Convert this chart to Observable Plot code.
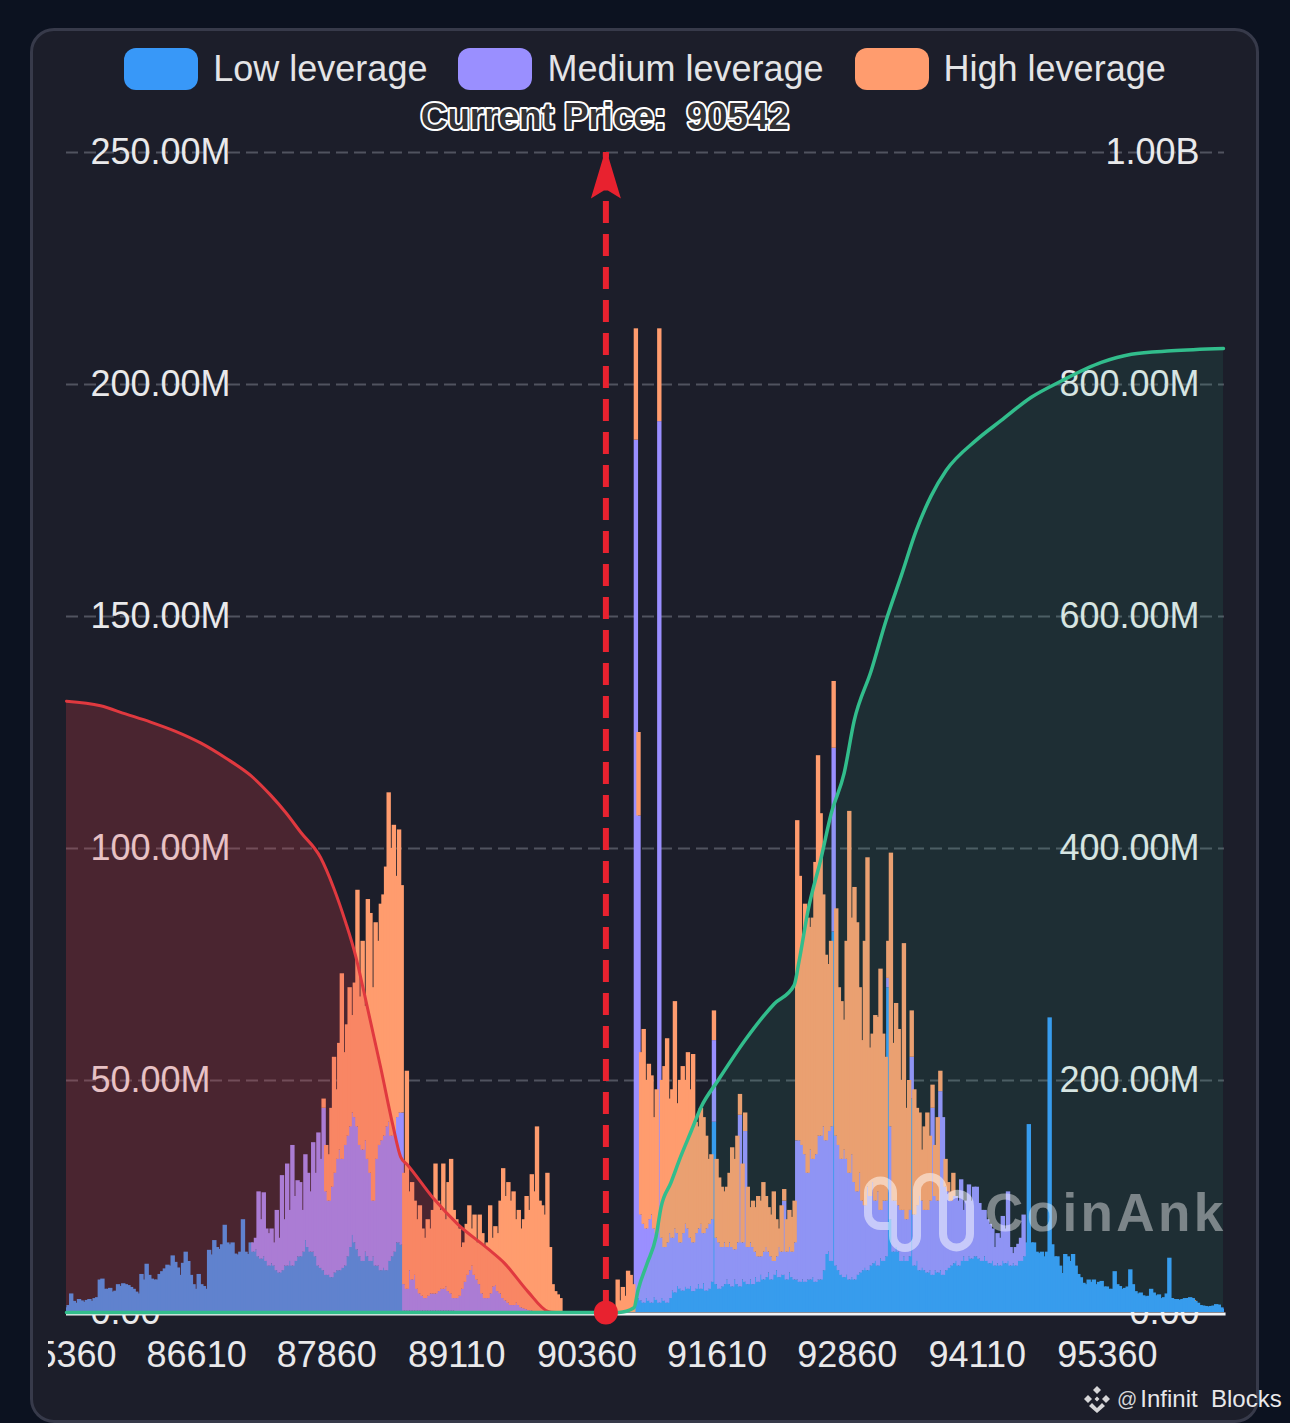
<!DOCTYPE html>
<html>
<head>
<meta charset="utf-8">
<script src="https://cdn.jsdelivr.net/npm/d3@7"></script>
<script src="https://cdn.jsdelivr.net/npm/@observablehq/plot@0.6"></script>
<style>
html,body{margin:0;padding:0;background:#0c1220;}
#root{position:relative;width:1290px;height:1423px;overflow:hidden;font-family:"Liberation Sans",Arial,sans-serif;}
#card{position:absolute;left:30px;top:28px;width:1223px;height:1389px;background:#1c1e2a;border:3px solid #373a4a;border-radius:24px;}
#legend{position:relative;height:96px;display:flex;justify-content:center;align-items:flex-start;gap:31px;padding-top:0;box-sizing:border-box;font-size:36px;color:#e4e4e6;}
.item{display:flex;align-items:center;gap:15px;margin-top:48px;height:42px;}
.swatch{display:inline-block;width:74px;height:42px;border-radius:12px;}
#chart{position:relative;height:1327px;}
#chart svg{display:block;}
.mark{position:absolute;pointer-events:none;}
#coinank{left:985px;top:1180px;font-weight:700;font-size:53px;letter-spacing:3.4px;line-height:66px;color:rgba(255,255,255,.42);white-space:nowrap;}
#credit{left:1083px;top:1382px;height:34px;display:flex;align-items:center;color:#e8e8ea;font-size:24px;white-space:pre;}
</style>
</head>
<body>
<div id="root">
  <div id="card"></div>
  <div id="legend"></div>
  <div id="chart"></div>
  <svg class="mark" style="left:0;top:0" width="1290" height="1423" fill="none">
    <path d="M893 1222V1193a12.5 12.5 0 0 0-25 0v20a12.5 12.5 0 0 0 12.5 13H890M893 1193v43a12 12 0 0 0 24 0v-46a13 13 0 0 1 26 0v44a13.5 13.5 0 0 0 27 0v-28a12 12 0 0 0-20-9" stroke="rgba(255,255,255,.5)" stroke-width="8" stroke-linecap="round"/>
  </svg>
  <div id="coinank" class="mark">CoinAnk</div>
  <div id="credit" class="mark"><svg width="28" height="28" viewBox="-14 -14 28 28" fill="#d6d6d8" style="margin-right:6px"><path d="M0-13l4 4-4 4-4-4zM-9-4l4 4-4 4-4-4zM9-4l4 4-4 4-4-4zM0-2.5l2.5 2.5-2.5 2.5-2.5-2.5zM-5 4l5 5 5-5 3 3-8 7-8-7z"/></svg><span style="color:#d6d6d8;font-size:20px;margin-right:3px">@</span>Infinit  Blocks</div>
</div>
<script>
const zeros = n => new Array(n).fill(0);

// Bars are one price step wide; tops of each leverage layer, in millions.
const firstPrice = 85360;
const priceStep = 25;
const currentPrice = 90542;
const xTicks = [85360, 86610, 87860, 89110, 90360, 91610, 92860, 94110, 95360];
const yTicks = [0, 50, 100, 150, 200, 250];
const seriesNames = ["Low leverage", "Medium leverage", "High leverage"];
const seriesColors = ["#3898f8", "#9a8fff", "#ff9c6e"];

const lowTop = [
  1,1.5,4,2.4,2,2.8,2.5,2.2,2.6,2.8,2.4,3,3.2,7,7.2,5,5,5.2,4.4,4.6,6,5.6,6.2,6,5.8,5.4,5,4.4,4,8.2,7,10.4,8,7.2,7,7,8.2,8.8,9.4,10.2,10,12.2,10.8,9.6,8,10.6,13,11,8,6,
  5,8.2,6,5.6,5,13.4,12.4,15.5,14,13.6,14.6,18.8,15,14.6,15,12.6,12.4,13,20,13,12.5,15,13,13.5,12,11.5,12,11,10,10.5,10,9,8.5,9,10,10,11,10,11,12,12,13,15.5,14,13,13,12,10,9.5,9,
  8,8,7.5,8.5,9,9,9.5,10,12,14,16.6,15,13.5,12,11,13,12,11,12,10,10,9,9.5,9,11,12,13,15,15,14.5,.3,.3,.3,.3,.3,.3,.3,.3,.3,.3,.3,.3,.3,.3,.3,.3,.3,.3,.3,.3,
  ...zeros(50),
  ...zeros(19),3,3,2.5,2,3,2.4,2,3.2,2.6,2,3,2.4,2,3,4.6,4.2,5.6,5,4.6,5.4,5,5.6,4.5,5,6,5,6.2,4.6,5,6.5,41,
  6,5,5.5,6,7,6,5.5,7,6,5.5,7,6.5,6,7,6,7.5,6.5,8,7,7.5,8.5,7,8,9,7.5,8,8,7,8.5,7.5,7,7,6.5,7,6.5,7,7,7.5,6.5,7,7,9,12.5,13,11,82,10,9,8,7.5,
  8,7,7.5,7,8,8.5,9,9.5,9,10,10.5,11,10,11.5,11,12,70,20,13,14,13,11,12,11,12,46,10,11,9,9.5,9,8.5,9,8,9,8.5,9,8,9,9.5,10,10.5,11,10,11,12,11,12,11.5,12,
  12,11.5,11,12,11,10.5,11,10,10.5,10,11,10.5,11,10,10.5,10,11,11,12,15,40.5,15,15,13,12.7,13,12,13,63.5,14.6,12,12,10,8.4,12.5,12,11,12.5,10,8.2,7.5,6.3,6,7,6.5,7,6,6.5,6.7,5.5,
  5.5,5,5,8.8,6,5.6,5,5.2,5.5,9.2,6,4.5,4,4.2,3.6,3.4,3.5,5,4.2,3.6,3.8,3,3.2,4,11.7,3,2.8,2.8,2.6,2.8,3,3,3.2,3,2.4,2,1.5,1.4,1.3,1.2,1.3,1.4,1.7,1.6,1,.7
];

const mediumTop = [
  ...zeros(50),
  ...zeros(22),15,16,26,20,25.8,18,17,18,15,22,16,29.5,20,32,22,36,25,28.4,28,22,34,30,26,36.6,30,38.7,33,44,
  26,24,27,30,33,35,33,36,38,40,43,42,40,36,35,37,33,30,24,33,36,37,38,40,41,38,39,42,43,43,6,5,9,7,8,5,4,3.5,3,3.5,4,4,4,4.5,5,5,5.5,4.5,4,3,
  3,3.5,5,6.5,8,9,10,8,7,6,4,3,3,4,5.5,5.8,4.5,4,3,2.5,2,1.5,1.5,2,1.5,1,.8,.6,.4,.3,...zeros(20),
  ...zeros(19),188,107,21,19,18,20,21,18,17,192,16,14,15,17,16,18,17,15,17,19,18,16,15,17,18,19,17,18,19,20,58.6,
  16,15,14,15,14,15,14,13.5,15,42.5,15,39,14,15,14,13,12,12,13,14,13,12,11,12,14,13,24,13,14,13,15,37,37,36,34,30,35,33,34,38,38,40,37,39,40,121.6,38,36,33,35,
  33,30,34,28,26,30,24,23,27,25,28,24,26,22,24,24,72,40,24,24,23,22,22,20,22,55,21,23,25,24,22,22,24,44,25,24,47.6,42,27,26,24,25,25,24,28.6,22,24,27.5,24,27,
  27,23.5,22,22,20,19,18,14,17,16,20.7,18,26,14,12.7,14,14.7,16,21,...zeros(31),
  ...zeros(46)
];

const highTop = [
  ...zeros(50),
  ...zeros(49),46,
  36,34,44,55,48,58,73,56,62,70,64,71,91,68,80,66,89,86,70,84,80,88,90,96,112,100,105,94,104,92,30,52,26,28,24,20,23,18,16,20,18,22,32,24,22,32,20,28,33,22,
  20,18,14,15,19,23,18,21,15,21,17,14,15,23,16,18.5,17,24,31,25,28,24,26,20,22,18,20,25,22,29.7,26,40,24,23,21,30,14,6,4.5,3.8,3,...zeros(9),
  ...zeros(12),7,2.5,5.4,3.5,8.9,8,6,212,125,56,61,50,53.5,51,42,48,212,50,53,59,46,48,67,45,50,53,50,56,48,55.6,41,40,44,42,38,33,34,65,
  33,29,27,26,27,30,35.5,33,38,47,32,43,27,22.6,24,22.6,25,24,28,25,22.6,21,26,20,18,23,26.5,20,22,20.5,24,106,94,80,88,85,83,85,97,120,107.5,90,77,75,80,136,87,70,67,63,
  80,108,85,91.6,84,70,58.6,80,98,57,60,64,63.6,74,60,55,80,99,58,66.6,61,50,79.5,44,50,65,48,44,43,35,40,43,38,49,36,42,52,42,33,28,26,30,25,24,0,0,0,0,0,0,
  ...zeros(50),
  ...zeros(46)
];

// Cumulative liquidation, read against the right-hand axis, in millions.
const shortPrices = [85360,85687,85927,86168,86408,86648,86889,87129,87321,87466,87610,87802,87927,88043,88139,88216,88379,88494,88571,88639,88889,89120,89408,89562,89793,89985,90062];
const shortCum =    [527,523,516,509,501,491,478,463,446,431,414,392,366,336,307,277,211,162,134,127,98,76,55,43,18,1,0];
const longPrices = [85360,90667,90812,90850,90937,91023,91071,91167,91263,91360,91456,91619,91889,92158,92350,92398,92485,92610,92706,92831,92927,93090,93235,93379,93523,93667,93812,94100,94340,94629,94917,95302,95590,95975,96475];
const longCum =    [0,0,4,19,42,65,90.5,112,135,156,177,200,236,266,282,303,347,392,430,465,510,553,597,635,674,704,726,752,769,789,803,819,826,829,831];

if (lowTop.length !== 446 || mediumTop.length !== 446 || highTop.length !== 446)
  throw new Error("lengths " + lowTop.length + " " + mediumTop.length + " " + highTop.length);

// Table drawn series by series, so later layers sit over earlier ones as in the source.
const rows = [];
lowTop.forEach((v, i) => rows.push({price: firstPrice + i * priceStep, series: seriesNames[0], from: 0, to: v}));
mediumTop.forEach((v, i) => { if (v > lowTop[i]) rows.push({price: firstPrice + i * priceStep, series: seriesNames[1], from: lowTop[i], to: v}); });
highTop.forEach((v, i) => { const b = Math.max(lowTop[i], mediumTop[i]); if (v > b) rows.push({price: firstPrice + i * priceStep, series: seriesNames[2], from: b, to: v}); });

const short = shortPrices.map((p, i) => ({price: p, cum: shortCum[i]}));
const long = longPrices.map((p, i) => ({price: p, cum: longCum[i]}));
const rightAxis = d => d.cum / 4;

// Legend
const legend = document.getElementById("legend");
seriesNames.forEach((n, i) => {
  const it = document.createElement("div"); it.className = "item";
  const s = document.createElement("span"); s.className = "swatch"; s.style.background = seriesColors[i];
  const t = document.createElement("span"); t.textContent = n;
  it.append(s, t); legend.append(it);
});

const RED = "#e8222f";
const arrowHead = {draw(c) {
  c.moveTo(-3, 0); c.lineTo(3, 0); c.lineTo(3, 6); c.lineTo(15, 46); c.lineTo(2, 38); c.lineTo(-2, 38); c.lineTo(-15, 46); c.lineTo(-3, 6); c.closePath();
}};

const chart = Plot.plot({
  width: 1290,
  height: 1327,
  marginLeft: 66,
  marginRight: 66,
  marginTop: 56,
  marginBottom: 111,
  style: {background: "transparent", color: "#e9e9eb", fontFamily: '"Liberation Sans", Arial, sans-serif', overflow: "visible"},
  x: {type: "linear", domain: [85360, 96485]},
  y: {domain: [0, 250]},
  color: {domain: seriesNames, range: seriesColors},
  marks: [
    Plot.ruleY([50, 100, 150, 200, 250], {stroke: "#50535f", strokeWidth: 2, strokeDasharray: "12 6"}),
    Plot.axisY({anchor: "left", ticks: yTicks, tickSize: 0, tickPadding: -24, textAnchor: "start", fontSize: 36, label: null, tickFormat: d => d === 0 ? "0.00" : d.toFixed(2) + "M"}),
    Plot.axisY({anchor: "right", ticks: yTicks, tickSize: 0, tickPadding: -25, textAnchor: "end", fontSize: 36, label: null, tickFormat: d => d === 0 ? "0.00" : d * 4 >= 1000 ? (d * 4 / 1000).toFixed(2) + "B" : (d * 4).toFixed(2) + "M"}),
    Plot.axisX({ticks: xTicks, tickSize: 0, tickPadding: 29, fontSize: 36, label: null, tickFormat: d => String(d)}),
    Plot.rect(rows, {x1: d => d.price - 21, x2: d => d.price + 21, y1: "from", y2: "to", fill: "series", clip: true}),
    Plot.areaY(short, {x: "price", y1: 0, y2: rightAxis, fill: "#e33b44", fillOpacity: 0.23, curve: "monotone-x"}),
    Plot.areaY(long, {x: "price", y1: 0, y2: rightAxis, fill: "#2fc192", fillOpacity: 0.1, curve: "monotone-x"}),
    Plot.ruleY([0], {x1: 85360, x2: 96500, stroke: "#f4f4f6", strokeWidth: 3, dy: 1.5}),
    Plot.lineY(short, {x: "price", y: rightAxis, stroke: "#e0393f", strokeWidth: 3, curve: "monotone-x"}),
    Plot.lineY(long, {x: "price", y: rightAxis, stroke: "#32bd8c", strokeWidth: 3.5, curve: "monotone-x"}),
    Plot.ruleX([currentPrice], {y1: 0, y2: 250, stroke: RED, strokeWidth: 6, strokeDasharray: "22 11"}),
    Plot.dot([currentPrice], {x: d => d, y: () => 250, r: 10, symbol: arrowHead, fill: RED}),
    Plot.dot([currentPrice], {x: d => d, y: () => 0, r: 12, fill: RED}),
    Plot.text(["Current Price:\u00A0\u00A0" + currentPrice], {x: () => currentPrice, y: () => 250, dy: -35, dx: -1, fontSize: 36.8, fontWeight: 700, fill: "#333336", stroke: "#ffffff", strokeWidth: 4})
  ]
});
chart.style.clipPath = "inset(0 0 0 48px)";
document.getElementById("chart").append(chart);
</script>
</body>
</html>
